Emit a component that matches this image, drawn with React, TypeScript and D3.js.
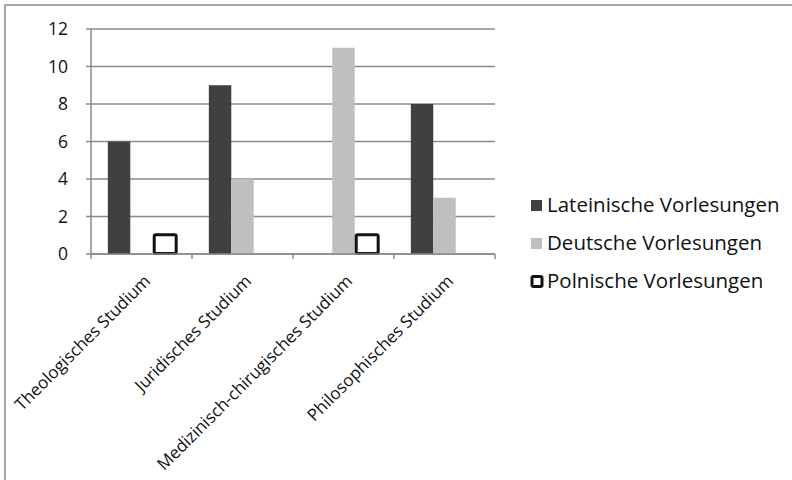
import React from "react";
import * as d3 from "d3";

const categories = [
  "Theologisches Studium",
  "Juridisches Studium",
  "Medizinisch-chirugisches Studium",
  "Philosophisches Studium",
];
const seriesNames = ["Lateinische Vorlesungen", "Deutsche Vorlesungen", "Polnische Vorlesungen"];
const latein = [6, 9, 0, 8];
const deutsch = [0, 4, 11, 3];
const polnisch = [1, 0, 1, 0];
const yTicks = [0, 2, 4, 6, 8, 10, 12];

const W = 792;
const H = 480;
const plot = { left: 91, right: 495, top: 29, bottom: 254 };

const seriesStyle = [
  { fill: "#404040", stroke: "none", sw: 0 },
  { fill: "#bfbfbf", stroke: "none", sw: 0 },
  { fill: "#ffffff", stroke: "#111111", sw: 3 },
];

export default function App() {
  const x = d3.scaleBand<string>().domain(categories).range([plot.left, plot.right]).paddingInner(0).paddingOuter(0);
  const inner = d3
    .scaleBand<number>()
    .domain([0, 1, 2])
    .range([0, x.bandwidth()])
    .paddingInner(0)
    .paddingOuter(0.75);
  const y = d3.scaleLinear().domain([0, 12]).range([plot.bottom, plot.top]);
  const data = [latein, deutsch, polnisch];
  const axisFont = "'Open Sans', sans-serif";
  const legendFont = "'Open Sans', sans-serif";

  return (
    <div style={{ position: "absolute", left: 0, top: 0 }}>
      <svg width={W} height={H} style={{ display: "block", background: "#fff" }}>
        <rect x={5} y={5} width={900} height={600} fill="#fff" stroke="#8a8a8a" strokeWidth={1.5} />
        {/* gridlines */}
        {yTicks.map((t) => (
          <line key={"g" + t} x1={plot.left} x2={plot.right} y1={y(t)} y2={y(t)} stroke="#8a8a8a" strokeWidth={1.5} />
        ))}
        {/* y axis */}
        <line x1={plot.left} x2={plot.left} y1={plot.top} y2={plot.bottom} stroke="#8a8a8a" strokeWidth={1.5} />
        {yTicks.map((t) => (
          <g key={"yt" + t}>
            <line x1={plot.left - 5} x2={plot.left} y1={y(t)} y2={y(t)} stroke="#8a8a8a" strokeWidth={1.5} />
            <text x={68} y={y(t)} dy="0.37em" textAnchor="end" fontFamily={axisFont} fontSize={17.5} fill="#111">
              {t}
            </text>
          </g>
        ))}
        {/* bars */}
        {categories.map((c, ci) =>
          data.map((vals, si) => {
            const v = vals[ci];
            if (!v) return null;
            const st = seriesStyle[si];
            const bx = (x(c) as number) + (inner(si) as number);
            const bw = inner.bandwidth();
            if (st.sw) {
              return (
                <rect
                  key={c + si}
                  x={bx + st.sw / 2}
                  y={y(v) - st.sw / 2 + 1}
                  width={bw + 1 - st.sw / 2}
                  height={y(0) - y(v)}
                  fill={st.fill}
                  stroke={st.stroke}
                  strokeWidth={st.sw}
                  rx={1.5}
                />
              );
            }
            return <rect key={c + si} x={bx} y={y(v)} width={bw} height={y(0) - y(v)} fill={st.fill} />;
          })
        )}
        {/* x axis */}
        <line x1={plot.left} x2={plot.right} y1={plot.bottom} y2={plot.bottom} stroke="#8a8a8a" strokeWidth={1.5} />
        {[...categories.map((c) => x(c) as number), plot.right].map((px, i) => (
          <line key={"xt" + i} x1={px} x2={px} y1={plot.bottom} y2={plot.bottom + 5} stroke="#8a8a8a" strokeWidth={1.5} />
        ))}
        {categories.map((c) => {
          const cx = (x(c) as number) + x.bandwidth() / 2;
          return (
            <text
              key={"xl" + c}
              transform={`translate(${cx + 10},${plot.bottom + 28}) rotate(-45)`}
              textAnchor="end"
              fontFamily={axisFont}
              fontSize={17}
              fill="#111"
            >
              {c}
            </text>
          );
        })}
        {/* legend */}
        {seriesNames.map((n, i) => {
          const cy = 205.5 + i * 38;
          const st = seriesStyle[i];
          return (
            <g key={"lg" + n}>
              {st.sw ? (
                <rect x={532} y={cy - 5} width={10} height={10} fill="#fff" stroke="#111" strokeWidth={3} rx={1.5} />
              ) : (
                <rect x={531} y={cy - 5.5} width={11} height={11} fill={st.fill} />
              )}
              <text x={547} y={cy + 6.5} fontFamily={legendFont} fontSize={20.5} fill="#111">
                {n}
              </text>
            </g>
          );
        })}
      </svg>
    </div>
  );
}
